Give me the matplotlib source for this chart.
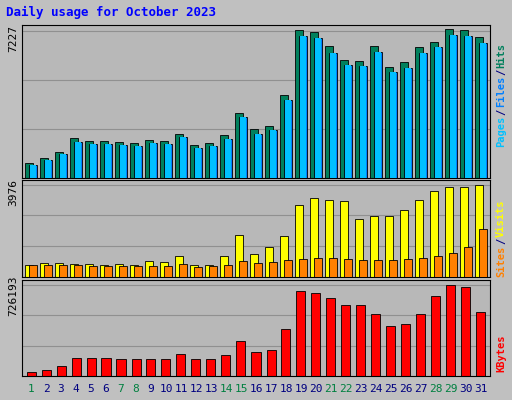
import matplotlib
matplotlib.use("Agg")
import matplotlib.pyplot as plt
import numpy as np

days = list(range(1, 32))
hits = [730,980,1270,1950,1800,1800,1760,1710,1850,1800,2150,1610,1710,2100,3170,2390,2540,4050,7180,7080,6400,5760,5710,6400,5420,5620,6350,6640,7227,7180,6840]
files = [650,880,1150,1750,1640,1640,1600,1560,1680,1650,1980,1480,1560,1900,2950,2150,2350,3800,6900,6800,6100,5500,5450,6150,5150,5350,6100,6350,6950,6900,6550]
visits = [513,600,600,560,560,513,560,513,684,640,900,513,513,900,1800,980,1280,1750,3080,3420,3330,3250,2480,2610,2610,2870,3300,3720,3890,3890,3976]
sites = [500,520,520,500,480,470,470,460,490,480,560,450,460,500,680,600,640,720,780,820,820,790,720,720,720,760,820,900,1050,1300,2080]
kbytes = [31600,47400,79000,142100,142100,142100,134200,134200,134200,134200,173700,134200,134200,165800,276300,189500,205300,371000,679000,663000,616000,560000,560000,489000,395000,411000,489000,639000,726193,710000,505000]
weekend = {1,7,8,14,15,21,22,28,29}

W, H = 512, 400
fig = plt.figure(figsize=(5.12, 4.0), dpi=100, facecolor="#c0c0c0")
plt.rcParams['font.family'] = 'DejaVu Sans Mono'

def ax_at(x0, y0, x1, y1):
    ax = fig.add_axes([x0/W, 1-y1/H, (x1-x0)/W, (y1-y0)/H])
    ax.set_facecolor("#b8b8b8")
    ax.set_xlim(0.4, 31.6)
    for s in ax.spines.values():
        s.set_color("black"); s.set_linewidth(0.8)
    ax.tick_params(left=False, labelleft=False, bottom=False, labelbottom=False)
    return ax

x = np.array(days)
a1 = ax_at(22, 25, 490, 178)
a1.set_ylim(0, 7227*1.03)
for g in [1, 2, 3]:
    a1.axhline(7227*g/3*0.99, color="#909090", lw=0.8, zorder=0)
a1.bar(x-0.12, hits, 0.55, color="#00805c", edgecolor="black", lw=0.6, zorder=2)
a1.bar(x+0.12, files, 0.55, color="#0080ff", edgecolor="black", lw=0.6, zorder=3)
a1.bar(x+0.16, files, 0.4, color="#00c0ff", edgecolor="none", zorder=4)

a2 = ax_at(22, 180, 490, 277)
a2.set_ylim(0, 3976*1.05)
for g in [1, 2, 3]:
    a2.axhline(3976*g/3, color="#909090", lw=0.8, zorder=0)
a2.bar(x-0.12, visits, 0.55, color="#ffff00", edgecolor="black", lw=0.6, zorder=2)
a2.bar(x+0.12, sites, 0.55, color="#ff8000", edgecolor="black", lw=0.6, zorder=3)

a3 = ax_at(22, 280, 490, 376)
a3.set_ylim(0, 726193*1.05)
for g in [1, 2, 3]:
    a3.axhline(726193*g/3, color="#909090", lw=0.8, zorder=0)
a3.bar(x, kbytes, 0.6, color="#ff0000", edgecolor="black", lw=0.6, zorder=2)
a3.tick_params(labelbottom=True, labelsize=8, pad=2)
a3.set_xticks(days)
a3.set_xticklabels([str(d) for d in days])
for lbl, d in zip(a3.get_xticklabels(), days):
    lbl.set_color("#008040" if d in weekend else "#000080")

fig.text(6/W, 1-16/H, "Daily usage for October 2023", color="#0000ff", fontsize=9, fontweight="bold")
for ypix, val in [(38, "7227"), (193, "3976"), (296, "726193")]:
    fig.text(13/W, 1-ypix/H, val, rotation=90, fontsize=8, ha="center", va="center")

def rlabel(yc, parts, fs=7.5):
    total = sum(len(p) for p, _ in parts)
    ch = fs * 0.602 * 100 / 72 + 0.3
    y = yc + total*ch/2
    for p, c in parts:
        fig.text(501/W, 1-(y - len(p)*ch/2)/H, p, rotation=90, color=c, fontsize=fs,
                 ha="center", va="center", fontweight="bold")
        y -= len(p)*ch
rlabel(95, [("Pages", "#00c0ff"), ("/", "#000080"), ("Files", "#0080ff"), ("/", "#000080"), ("Hits", "#00805c")])
rlabel(238, [("Sites", "#ff8000"), ("/", "#000080"), ("Visits", "#ffff00")])
rlabel(353, [("KBytes", "#ff0000")])

fig.savefig("out.png", dpi=100, facecolor=fig.get_facecolor())
